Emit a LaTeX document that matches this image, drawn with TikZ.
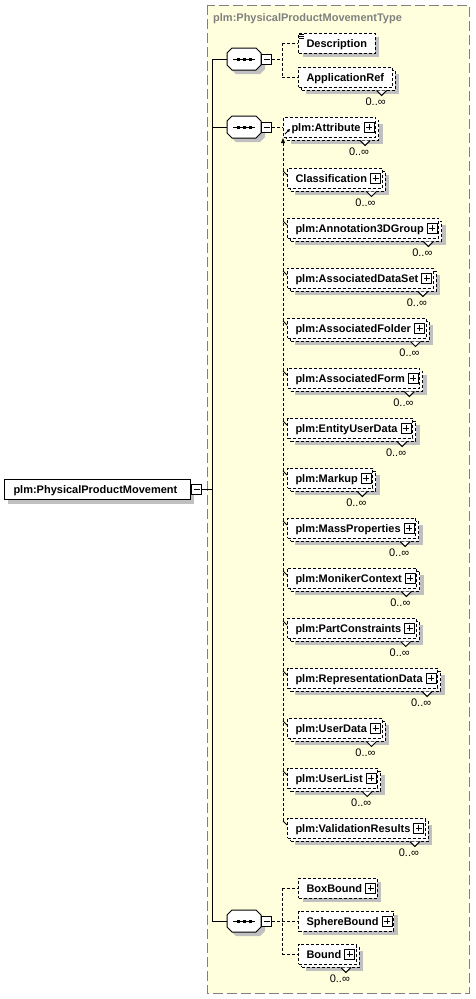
\documentclass[tikz,border=0pt]{standalone}
\usepackage{fontspec}
\setmainfont{Liberation Sans}
\usetikzlibrary{shadows,calc,arrows.meta}
\definecolor{bgyellow}{HTML}{FFFFDD}
\definecolor{shadowgray}{HTML}{C0C0C0}
\definecolor{framegray}{HTML}{808080}
\newcommand\efont{\fontsize{11}{13}\selectfont\bfseries}
\newcommand\mfont{\fontsize{11}{13}\selectfont}
\tikzset{
 x=1pt,y=-1pt,
 conn/.style={line width=1pt, dash pattern=on 3pt off 2pt},
 solidline/.style={line width=1pt},
 elembase/.style={fill=white, font=\efont, minimum height=20pt, inner ysep=0pt, inner xsep=8pt, text height=8pt, text depth=0pt, anchor=west, line width=1pt},
 single/.style={elembase, draw, dash pattern=on 3pt off 2pt, drop shadow={shadow xshift=4pt, shadow yshift=-4pt, fill=shadowgray, opacity=1}},
 multi/.style={elembase, draw, dash pattern=on 3pt off 2pt, drop shadow={shadow xshift=7pt, shadow yshift=-7pt, fill=shadowgray, opacity=1}, copy shadow={shadow xshift=3pt, shadow yshift=-3pt, dash pattern=on 3pt off 2pt, fill=white, draw=black}},
 haspl/.style={execute at end node={\hspace*{7pt}}},
 sqbox/.style={draw, solid, fill=white, minimum size=10pt, inner sep=0pt, line width=1pt},
 mult/.style={font=\mfont, inner sep=0pt},
}
\newcommand\plusat[1]{%
 \node[sqbox] (#1p) at ($(#1.east)+(-7,0)$) {};
 \draw[solidline] ($(#1p.center)+(-3,0)$) -- ($(#1p.center)+(3,0)$) ($(#1p.center)+(0,-3)$) -- ($(#1p.center)+(0,3)$);}
\newcommand\notchat[1]{%
 \draw[solidline, fill=white] ($(#1.south east)+(-16,3)$) -- ++(5,5) -- ++(5,-5);
 \node[mult] (#1n) at ($(#1.south east)+(-17,14)$) {0..∞};}
\newcommand\seqat[2]{%
 \fill[shadowgray] (236,#2-7) -- (260,#2-7) -- (265,#2-2) -- (265,#2+10) -- (260,#2+15) -- (236,#2+15) -- (231,#2+10) -- (231,#2-2) -- cycle;
 \draw[solidline, fill=white] (232,#2-11) -- (256,#2-11) -- (261,#2-6) -- (261,#2+6) -- (256,#2+11) -- (232,#2+11) -- (227,#2+6) -- (227,#2-6) -- cycle;
 \coordinate (#1w) at (227,#2);
 \draw[solidline] (233,#2) -- (255,#2);
 \fill (237,#2-1.5) rectangle ++(3,3);
 \fill (243,#2-1.5) rectangle ++(3,3);
 \fill (249,#2-1.5) rectangle ++(3,3);
 \node[sqbox] (#1m) at (266.5,#2) {};
 \draw[solidline] ($(#1m.center)+(-3,0)$) -- ($(#1m.center)+(3,0)$);}
\newcommand\subelem[3]{%
 \node[multi, haspl] (#1) at (287,#3) {#2};
 \plusat{#1}
 \notchat{#1}
 \draw[line width=0.8pt] (283,#3-7) -- (287,#3-3);}
\begin{document}
\begin{tikzpicture}
\useasboundingbox (0,0) rectangle (475,999);
% frame
\draw[framegray, fill=bgyellow, line width=1pt, dash pattern=on 10pt off 4pt] (207,5) rectangle (469,993);
\node[anchor=west, font=\efont, text=framegray, inner sep=0pt] (title) at (213,19) {plm:PhysicalProductMovementType};
% root
\node[draw, solidline, fill=white, font=\efont, text width=168pt, align=left, minimum height=20pt, inner ysep=0pt, inner xsep=9pt, text height=8pt, text depth=0pt, anchor=west, drop shadow={shadow xshift=3pt, shadow yshift=-5pt, fill=shadowgray, opacity=1}] (root) at (4,489) {plm:PhysicalProductMovement};
\node[sqbox] (rootm) at (196.5,489) {};
\draw[solidline] ($(rootm.center)+(-3,0)$) -- ($(rootm.center)+(3,0)$);
% trunk
\coordinate (t1) at (212,59);
\coordinate (t2) at (212,127);
\coordinate (t3) at (212,921);
\draw[solidline] (rootm.east) -- (rootm.east -| t1);
\draw[solidline] (t1) -- (t3);
% sequences
\seqat{sa}{59}
\seqat{sb}{127}
\seqat{sc}{921}
\draw[solidline] (t1) -- (saw);
\draw[solidline] (t2) -- (sbw);
\draw[solidline] (t3) -- (scw);
% sequence 1
\node[single] (desc) at (298,43) {Description};
\draw[line width=0.8pt] ($(desc.north west)+(1,1.5)$) -- ++(5,0) ($(desc.north west)+(1,3.5)$) -- ++(5,0) ($(desc.north west)+(1,5.5)$) -- ++(5,0);
\node[multi] (appref) at (298,77) {ApplicationRef};
\notchat{appref}
\coordinate (b1) at (282,59);
\draw[conn] (sam.east) -- (b1);
\draw[conn] (desc.west -| b1) -- (appref.west -| b1);
\draw[conn] (desc.west -| b1) -- (desc.west);
\draw[conn] (appref.west -| b1) -- (appref.west);
% sequence 2
\node[multi, haspl] (attr) at (283,127) {plm:Attribute};
\plusat{attr}
\notchat{attr}
\draw[solidline, -{Triangle[width=3pt,length=3pt]}] ($(attr.west)+(2,7)$) -- ($(attr.west)+(7,2)$);
\draw[conn] (sbm.east) -- (attr.west);
\subelem{cls}{Classification}{178}
\subelem{ann}{plm:Annotation3DGroup}{228}
\subelem{ads}{plm:AssociatedDataSet}{278}
\subelem{afo}{plm:AssociatedFolder}{328}
\subelem{afm}{plm:AssociatedForm}{378}
\subelem{eud}{plm:EntityUserData}{428}
\subelem{mku}{plm:Markup}{478}
\subelem{mps}{plm:MassProperties}{528}
\subelem{mcx}{plm:MonikerContext}{578}
\subelem{pcs}{plm:PartConstraints}{628}
\subelem{rpd}{plm:RepresentationData}{678}
\subelem{usd}{plm:UserData}{728}
\subelem{usl}{plm:UserList}{778}
\subelem{vrs}{plm:ValidationResults}{828}
\draw[conn, -{Triangle[width=4pt,length=5pt]}] (attr.west |- 0,821) -- (attr.west |- 0,138);
% sequence 3
\node[single, haspl] (boxb) at (298,888) {BoxBound};
\plusat{boxb}
\node[single, haspl] (sphb) at (298,921) {SphereBound};
\plusat{sphb}
\node[multi, haspl] (bnd) at (298,954) {Bound};
\plusat{bnd}
\notchat{bnd}
\coordinate (b3) at (282,921);
\draw[conn] (scm.east) -- (b3);
\draw[conn] (boxb.west -| b3) -- (bnd.west -| b3);
\draw[conn] (boxb.west -| b3) -- (boxb.west);
\draw[conn] (sphb.west -| b3) -- (sphb.west);
\draw[conn] (bnd.west -| b3) -- (bnd.west);
\end{tikzpicture}
\end{document}
